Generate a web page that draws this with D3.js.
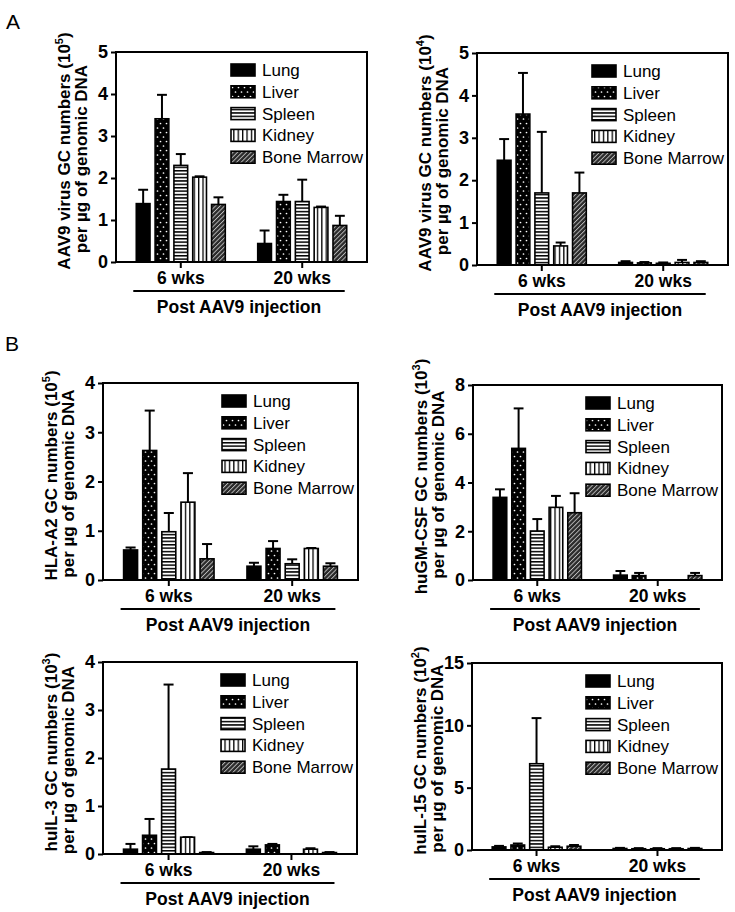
<!DOCTYPE html>
<html><head><meta charset="utf-8">
<script src="https://cdn.jsdelivr.net/npm/d3@7"></script>
<style>
html,body{margin:0;padding:0;background:#fff;}
svg{display:block;font-family:"Liberation Sans",Arial,Helvetica,sans-serif;}
</style></head>
<body>
<svg id="fig" width="735" height="912"></svg>
<script>
// ---------- data ----------
const groups = ["6 wks", "20 wks"];
const tissues = ["Lung", "Liver", "Spleen", "Kidney", "Bone Marrow"];
const xTitle = "Post AAV9 injection";

// A (left): AAV9 virus GC numbers (10^5)
const aav9E5Mean = [[1.39, 3.41, 2.30, 2.02, 1.37], [0.44, 1.44, 1.44, 1.30, 0.87]];
const aav9E5Err  = [[0.33, 0.57, 0.27, 0.02, 0.17], [0.31, 0.16, 0.52, 0.02, 0.23]];
const aav9E5Ticks = [0, 1, 2, 3, 4, 5];

// A (right): AAV9 virus GC numbers (10^4)
const aav9E4Mean = [[2.47, 3.56, 1.70, 0.45, 1.70], [0.06, 0.05, 0.04, 0.06, 0.06]];
const aav9E4Err  = [[0.50, 0.97, 1.44, 0.08, 0.48], [0.03, 0.02, 0.02, 0.06, 0.03]];
const aav9E4Ticks = [0, 1, 2, 3, 4, 5];

// B: HLA-A2 (10^5)
const hlaMean = [[0.61, 2.63, 0.98, 1.58, 0.43], [0.28, 0.64, 0.33, 0.64, 0.28]];
const hlaErr  = [[0.05, 0.81, 0.38, 0.59, 0.30], [0.07, 0.15, 0.09, 0.01, 0.06]];
const hlaTicks = [0, 1, 2, 3, 4];

// B: huGM-CSF (10^3)
const gmcsfMean = [[3.39, 5.40, 2.01, 2.98, 2.76], [0.20, 0.18, 0, 0, 0.18]];
const gmcsfErr  = [[0.33, 1.64, 0.49, 0.47, 0.80], [0.17, 0.11, 0, 0, 0.11]];
const gmcsfTicks = [0, 2, 4, 6, 8];

// B: huIL-3 (10^3)
const il3Mean = [[0.10, 0.39, 1.77, 0.35, 0.03], [0.10, 0.19, 0, 0.10, 0.03]];
const il3Err  = [[0.11, 0.34, 1.76, 0.00, 0.01], [0.06, 0.02, 0, 0.02, 0.01]];
const il3Ticks = [0, 1, 2, 3, 4];

// B: huIL-15 (10^2)
const il15Mean = [[0.25, 0.40, 6.92, 0.22, 0.30], [0.12, 0.10, 0.10, 0.10, 0.12]];
const il15Err  = [[0.08, 0.12, 3.66, 0.08, 0.10], [0.05, 0.05, 0.05, 0.05, 0.05]];
const il15Ticks = [0, 5, 10, 15];

// ---------- layout ----------
const panels = [
  {L:116, T:52,  R:367, B:262, max:5,  ticks:aav9E5Ticks, t1:"AAV9 virus GC numbers (10", sup:"5", mean:aav9E5Mean, err:aav9E5Err},
  {L:477, T:53,  R:728, B:265, max:5,  ticks:aav9E4Ticks, t1:"AAV9 virus GC numbers (10", sup:"4", mean:aav9E4Mean, err:aav9E4Err},
  {L:103, T:383, R:358, B:580, max:4,  ticks:hlaTicks,    t1:"HLA-A2 GC numbers (10",     sup:"5", mean:hlaMean,    err:hlaErr},
  {L:473, T:385, R:722, B:580, max:8,  ticks:gmcsfTicks,  t1:"huGM-CSF GC numbers (10",   sup:"3", mean:gmcsfMean,  err:gmcsfErr},
  {L:103, T:662, R:357, B:854, max:4,  ticks:il3Ticks,    t1:"huIL-3 GC numbers (10",     sup:"3", mean:il3Mean,    err:il3Err},
  {L:472, T:663, R:722, B:850, max:15, ticks:il15Ticks,   t1:"huIL-15 GC numbers (10",    sup:"2", mean:il15Mean,   err:il15Err}
];
const t2 = "per µg of genomic DNA";

const svg = d3.select("#fig");
const defs = svg.append("defs");

// patterns
function pat(id, w, h, bg, draw) {
  const p = defs.append("pattern").attr("id", id).attr("patternUnits", "userSpaceOnUse")
    .attr("width", w).attr("height", h);
  p.append("rect").attr("width", w).attr("height", h).attr("fill", bg);
  draw(p);
}
pat("p-solid", 4, 4, "#000", p => {});
pat("p-dots", 6, 9, "#000", p => {
  p.append("circle").attr("cx", 1.5).attr("cy", 2).attr("r", 0.85).attr("fill", "#fff");
  p.append("circle").attr("cx", 4.5).attr("cy", 6.5).attr("r", 0.85).attr("fill", "#fff");
});
pat("p-hlines", 6, 3.4, "#fff", p => {
  p.append("rect").attr("x", 0).attr("y", 0).attr("width", 6).attr("height", 1.5).attr("fill", "#000");
});
pat("p-vlines", 4.4, 6, "#fff", p => {
  p.append("rect").attr("x", 0).attr("y", 0).attr("width", 1.3).attr("height", 6).attr("fill", "#000");
});
pat("p-diag", 3.2, 3.2, "#2a2a2a", p => {
  p.attr("patternTransform", "rotate(45)");
  p.append("rect").attr("x", 0).attr("y", 0).attr("width", 0.9).attr("height", 3.2).attr("fill", "#bdbdbd");
});
const fills = ["url(#p-solid)", "url(#p-dots)", "url(#p-hlines)", "url(#p-vlines)", "url(#p-diag)"];

// panel letters
svg.append("text").attr("x", 6).attr("y", 29).attr("font-size", 21).text("A");
svg.append("text").attr("x", 5).attr("y", 351).attr("font-size", 21).text("B");

panels.forEach(P => {
  const g = svg.append("g");
  const y = d3.scaleLinear().domain([0, P.max]).range([P.B, P.T]);
  const x0 = d3.scaleBand().domain(groups).range([P.L, P.R]).paddingInner(0.267).paddingOuter(0.167);
  const x1 = d3.scaleBand().domain(tissues).range([0, x0.bandwidth()]).paddingInner(0.27);

  // bars
  groups.forEach((grp, gi) => {
    tissues.forEach((t, ti) => {
      const v = P.mean[gi][ti], e = P.err[gi][ti];
      if (v <= 0) return;
      const bx = x0(grp) + x1(t), bw = x1.bandwidth();
      const cx = bx + bw / 2;
      // error bar (upper only)
      g.append("line").attr("x1", cx).attr("x2", cx).attr("y1", y(v)).attr("y2", y(v + e))
        .attr("stroke", "#000").attr("stroke-width", 2);
      g.append("line").attr("x1", cx - bw * 0.36).attr("x2", cx + bw * 0.36)
        .attr("y1", y(v + e)).attr("y2", y(v + e)).attr("stroke", "#000").attr("stroke-width", 2);
      g.append("rect").attr("x", bx).attr("y", y(v)).attr("width", bw).attr("height", y(0) - y(v))
        .attr("fill", fills[ti]).attr("stroke", "#000").attr("stroke-width", 1.6);
    });
  });

  // frame
  g.append("rect").attr("x", P.L).attr("y", P.T).attr("width", P.R - P.L).attr("height", P.B - P.T)
    .attr("fill", "none").attr("stroke", "#000").attr("stroke-width", 2);

  // y axis
  const ya = d3.axisLeft(y).tickValues(P.ticks).tickSize(5).tickPadding(3).tickFormat(d3.format("d"));
  const yg = g.append("g").attr("transform", `translate(${P.L},0)`).call(ya);
  yg.select(".domain").remove();
  yg.selectAll(".tick line").attr("stroke-width", 2);
  yg.selectAll(".tick text").attr("font-size", 18).attr("font-weight", "bold")
    .attr("font-family", "Liberation Sans, Arial, sans-serif").attr("fill", "#000");

  // x axis
  const xa = d3.axisBottom(x0).tickSize(6).tickPadding(4);
  const xg = g.append("g").attr("transform", `translate(0,${P.B})`).call(xa);
  xg.select(".domain").remove();
  xg.selectAll(".tick line").attr("stroke-width", 2);
  xg.selectAll(".tick text").attr("font-size", 17.5).attr("font-weight", "bold")
    .attr("font-family", "Liberation Sans, Arial, sans-serif").attr("fill", "#000");

  // underline + x title
  const ux1 = x0(groups[0]) - 3, ux2 = x0(groups[1]) + x0.bandwidth() - 2;
  g.append("line").attr("x1", ux1).attr("x2", ux2).attr("y1", P.B + 29).attr("y2", P.B + 29)
    .attr("stroke", "#000").attr("stroke-width", 2);
  g.append("text").attr("x", (ux1 + ux2) / 2).attr("y", P.B + 51).attr("text-anchor", "middle")
    .attr("font-size", 17.5).attr("font-weight", "bold").text(xTitle);

  // y title
  const my = (P.T + P.B) / 2;
  const yt1 = g.append("text").attr("transform", `translate(${P.L - 46},${my - 6}) rotate(-90)`)
    .attr("text-anchor", "middle").attr("font-size", 17).attr("font-weight", "bold");
  yt1.append("tspan").text(P.t1);
  yt1.append("tspan").attr("font-size", 11).attr("dy", -7).text(P.sup);
  yt1.append("tspan").attr("dy", 7).text(")");
  g.append("text").attr("transform", `translate(${P.L - 29},${my + 2}) rotate(-90)`)
    .attr("text-anchor", "middle").attr("font-size", 17).attr("font-weight", "bold").text(t2);

  // legend
  const lx = P.R - 136, ly = P.T + 18;
  tissues.forEach((t, ti) => {
    const yy = ly + ti * 21.8;
    g.append("rect").attr("x", lx).attr("y", yy - 6).attr("width", 24).attr("height", 12)
      .attr("fill", fills[ti]).attr("stroke", "#000").attr("stroke-width", 1.6);
    g.append("text").attr("x", lx + 31).attr("y", yy + 6).attr("font-size", 17).text(t);
  });
});
</script>
</body></html>
